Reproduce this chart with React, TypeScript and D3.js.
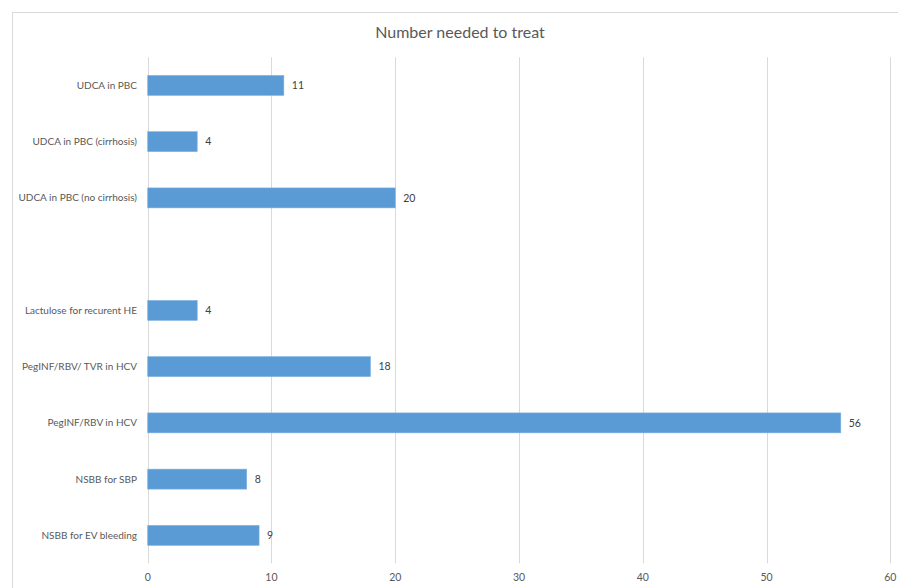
import React, { useEffect, useRef } from 'react';
import * as d3 from 'd3';

const categories = [
  'UDCA in PBC',
  'UDCA in PBC (cirrhosis)',
  'UDCA in PBC (no cirrhosis)',
  '',
  'Lactulose for recurent HE',
  'PegINF/RBV/ TVR in HCV',
  'PegINF/RBV in HCV',
  'NSBB for SBP',
  'NSBB for EV bleeding',
];
const values: (number | null)[] = [11, 4, 20, null, 4, 18, 56, 8, 9];
const xTicks = [0, 10, 20, 30, 40, 50, 60];
const title = 'Number needed to treat';

const App = () => {
  const svgRef = useRef<SVGSVGElement>(null);

  useEffect(() => {
    const width = 898;
    const height = 588;
    const svg = d3.select(svgRef.current).attr('width', width).attr('height', height);
    svg.selectAll('*').remove();
    const font = 'Lato, "Open Sans", sans-serif';
    const textColor = '#595959';

    svg
      .append('rect')
      .attr('x', 12.5)
      .attr('y', 12.5)
      .attr('width', 910)
      .attr('height', 600)
      .attr('fill', '#fff')
      .attr('stroke', '#d9d9d9');

    svg
      .append('text')
      .attr('x', 460)
      .attr('y', 32.5)
      .attr('dy', '0.35em')
      .attr('text-anchor', 'middle')
      .attr('font-family', font)
      .attr('font-size', 16)
      .attr('fill', textColor)
      .text(title);

    const x = d3.scaleLinear().domain([0, 60]).range([147.7, 890.3]);
    const y = d3
      .scaleBand()
      .domain(categories.map((c, i) => String(i)))
      .range([57.3, 563.5])
      .paddingInner(0.645)
      .paddingOuter(0.3225);

    const g = svg.append('g');

    g.selectAll('.grid')
      .data(xTicks)
      .enter()
      .append('line')
      .attr('x1', d => Math.round(x(d)) + 0.5)
      .attr('x2', d => Math.round(x(d)) + 0.5)
      .attr('y1', 57.3)
      .attr('y2', 563.3)
      .attr('stroke', '#d9d9d9')
      .attr('stroke-width', 1);

    g.selectAll('.tick')
      .data(xTicks)
      .enter()
      .append('text')
      .attr('x', d => x(d))
      .attr('y', 577.5)
      .attr('dy', '0.35em')
      .attr('text-anchor', 'middle')
      .attr('font-family', font)
      .attr('font-size', 10.5)
      .attr('fill', textColor)
      .text(d => d);

    g.selectAll('.cat')
      .data(categories)
      .enter()
      .append('text')
      .attr('x', 137)
      .attr('y', (d, i) => (y(String(i)) as number) + y.bandwidth() / 2)
      .attr('dy', '0.35em')
      .attr('text-anchor', 'end')
      .attr('font-family', font)
      .attr('font-size', 10)
      .attr('fill', textColor)
      .text(d => d);

    const rows = values.map((v, i) => ({ v, i })).filter(d => d.v !== null);

    g.selectAll('.bar')
      .data(rows)
      .enter()
      .append('rect')
      .attr('x', x(0))
      .attr('y', d => y(String(d.i)) as number)
      .attr('width', d => x(d.v as number) - x(0))
      .attr('height', y.bandwidth())
      .attr('fill', '#5b9bd5')
      .attr('stroke', '#7fb1e0')
      .attr('stroke-width', 0.6);

    g.selectAll('.val')
      .data(rows)
      .enter()
      .append('text')
      .attr('x', d => x(d.v as number) + 8)
      .attr('y', d => (y(String(d.i)) as number) + y.bandwidth() / 2)
      .attr('dy', '0.35em')
      .attr('font-family', font)
      .attr('font-size', 10.5)
      .attr('fill', '#404040')
      .text(d => d.v as number);
  }, []);

  return (
    <div style={{ position: 'absolute', left: 0, top: 0 }}>
      <svg ref={svgRef}></svg>
    </div>
  );
};

export default App;
